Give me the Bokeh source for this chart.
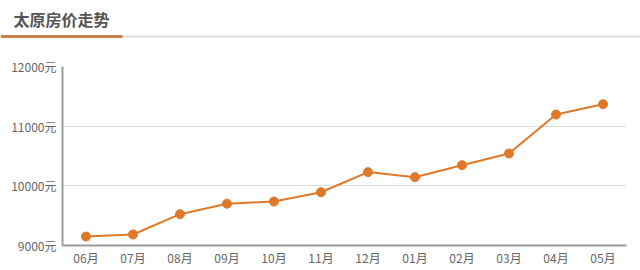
from bokeh.plotting import figure
from bokeh.models import Range1d, FixedTicker, FactorRange
from bokeh.layouts import column
from bokeh.core.properties import value
from bokeh.embed import file_html
from bokeh.resources import INLINE

title_text = "太原房价走势"
months = ["06月", "07月", "08月", "09月", "10月", "11月", "12月", "01月", "02月", "03月", "04月", "05月"]
prices = [9150, 9185, 9525, 9700, 9737, 9893, 10230, 10145, 10346, 10542, 11195, 11368]
y_ticks = [9000, 10000, 11000, 12000]
y_tick_labels = ["9000元", "10000元", "11000元", "12000元"]

FONT = "Noto Sans CJK SC"
ORANGE = "#e0782a"

# header
h = figure(width=640, height=40, x_range=Range1d(0, 640), y_range=Range1d(40, 0),
           x_axis_type=None, y_axis_type=None, toolbar_location=None,
           output_backend="svg", min_border=0, outline_line_color=None)
h.frame_align = False
h.grid.visible = False
h.text(x=[13], y=[18], text=[title_text], text_baseline="middle", text_align="left",
       text_font=value(FONT), text_font_size="16px", text_font_style="bold",
       text_color="#555555")
h.segment(x0=[122], y0=[36], x1=[640], y1=[36], line_color="#dddddd", line_width=2)
h.segment(x0=[0], y0=[36], x1=[122], y1=[36], line_color="#c8804e", line_width=3)

# chart
p = figure(width=640, height=230, x_range=FactorRange(*months, range_padding=0),
           y_range=Range1d(y_ticks[0], y_ticks[-1]), toolbar_location=None,
           output_backend="svg", min_border_left=62, min_border_right=14,
           min_border_top=26, min_border_bottom=25, outline_line_color=None)
p.frame_align = False

p.line(months, prices, line_color=ORANGE, line_width=2)
p.scatter(months, prices, size=9, fill_color=ORANGE, line_color=ORANGE)

p.yaxis.ticker = FixedTicker(ticks=y_ticks)
p.yaxis.major_label_overrides = {t: l for t, l in zip(y_ticks, y_tick_labels)}
for ax in (p.xaxis[0], p.yaxis[0]):
    ax.axis_line_color = "#9a9a9a"
    ax.axis_line_width = 2
    ax.major_tick_line_color = None
    ax.minor_tick_line_color = None
    ax.major_tick_out = 0
    ax.major_tick_in = 0
    ax.major_label_text_font = FONT
    ax.major_label_text_font_size = "12px"
    ax.major_label_text_color = "#666666"
p.yaxis.major_label_standoff = 6
p.xaxis.major_label_standoff = 3
p.xgrid.visible = False
p.ygrid.grid_line_color = "#dddddd"
p.ygrid.grid_line_width = 1

layout = column(h, p, spacing=0)
open("out.html", "w").write(file_html(layout, INLINE))
